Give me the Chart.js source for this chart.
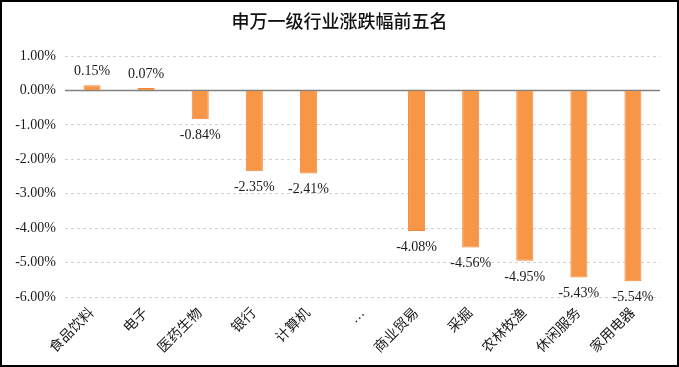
<!DOCTYPE html>
<html>
<head>
<meta charset="utf-8">
<script src="https://cdn.jsdelivr.net/npm/chart.js@4"></script>
<style>
  html, body { margin: 0; padding: 0; background: #fff; }
  #wrap { width: 679px; height: 367px; position: relative; }
</style>
</head>
<body>
<div id="wrap"><canvas id="industry-chart" width="679" height="367"></canvas></div>
<script>
// 申万一级行业涨跌幅 (%)
const categories = ["食品饮料", "电子", "医药生物", "银行", "计算机", "…", "商业贸易", "采掘", "农林牧渔", "休闲服务", "家用电器"];
const changes = [0.15, 0.07, -0.84, -2.35, -2.41, null, -4.08, -4.56, -4.95, -5.43, -5.54];
const titleText = "申万一级行业涨跌幅前五名";

const fontFamily = '"Liberation Serif", "Noto Sans CJK SC", serif';

const ctx = document.getElementById("industry-chart").getContext("2d");

// title, frame, zero line and value labels
const extras = {
  id: "extras",
  beforeDatasetsDraw(chart) {
    const c = chart.ctx;
    const y = chart.scales.y.getPixelForValue(0);
    c.save();
    c.strokeStyle = "#808080";
    c.lineWidth = 1.5;
    c.beginPath();
    c.moveTo(chart.chartArea.left, y);
    c.lineTo(chart.chartArea.right, y);
    c.stroke();
    c.restore();
  },
  afterDatasetsDraw(chart) {
    const c = chart.ctx;
    const meta = chart.getDatasetMeta(0);
    c.save();
    c.font = "14px " + fontFamily;
    c.fillStyle = "#1a1a1a";
    c.textAlign = "center";
    c.textBaseline = "middle";
    meta.data.forEach((bar, i) => {
      const v = changes[i];
      if (v === null) return;
      const ty = v >= 0 ? bar.y - 14 : bar.y + 16;
      c.fillText(v.toFixed(2) + "%", bar.x, ty);
    });
    c.restore();
  },
  afterDraw(chart) {
    const c = chart.ctx;
    c.save();
    c.font = "500 18px " + fontFamily;
    c.fillStyle = "#111";
    c.textAlign = "center";
    c.textBaseline = "middle";
    c.fillText(titleText, chart.width / 2, 23);
    c.strokeStyle = "#000";
    c.lineWidth = 2;
    c.strokeRect(1, 1, chart.width - 2, chart.height - 2);
    c.restore();
  },
};

const industryChart = new Chart(ctx, {
  type: "bar",
  data: {
    labels: categories,
    datasets: [
      {
        data: changes,
        backgroundColor: "#F79646",
        borderColor: "#F4883A",
        borderWidth: 1,
        categoryPercentage: 1,
        barPercentage: 0.315,
      },
    ],
  },
  options: {
    responsive: false,
    animation: false,
    layout: { padding: { top: 56, right: 19, bottom: 0, left: 0 } },
    plugins: {
      legend: { display: false },
      title: { display: false },
      tooltip: { enabled: false },
    },
    scales: {
      x: {
        grid: { display: false },
        border: { display: false },
        ticks: {
          maxRotation: 45,
          minRotation: 45,
          autoSkip: false,
          color: "#1a1a1a",
          font: { family: fontFamily, size: 14 },
          padding: 0,
        },
        afterFit(scale) {
          scale.height = 70;
        },
      },
      y: {
        min: -6,
        max: 1,
        ticks: {
          stepSize: 1,
          color: "#1a1a1a",
          font: { family: fontFamily, size: 14 },
          padding: 9,
          callback: (v) => v.toFixed(2) + "%",
        },
        grid: {
          color: "#d0d0d0",
          drawTicks: false,
        },
        border: { display: false, dash: [3, 3] },
        afterFit(scale) {
          scale.width = 65;
        },
      },
    },
  },
  plugins: [extras],
});
</script>
</body>
</html>
